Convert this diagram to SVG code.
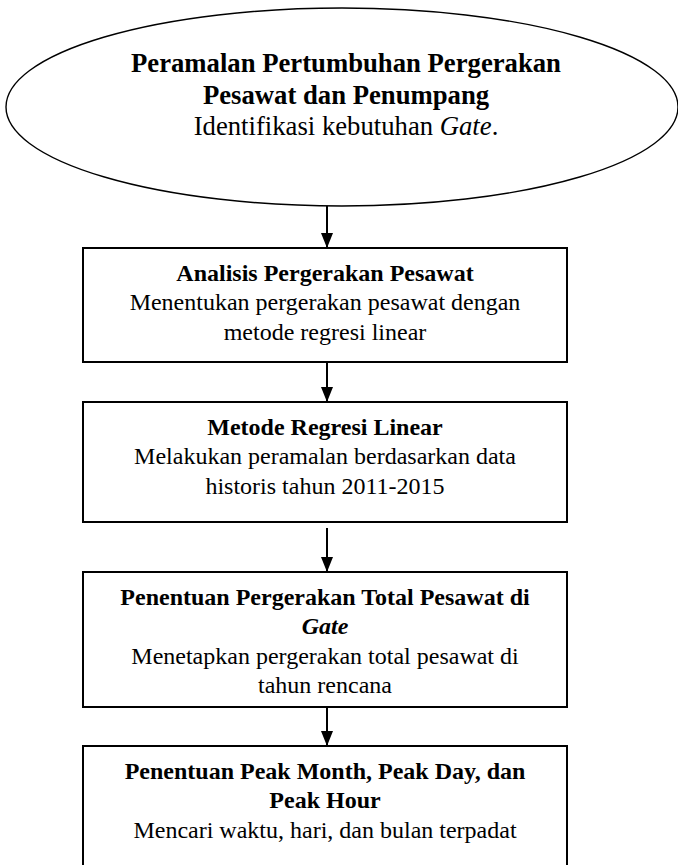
<svg xmlns="http://www.w3.org/2000/svg" width="678" height="865" viewBox="0 0 678 865">
<style>
  .shape { fill: #ffffff; stroke: #000000; }
  .box { stroke-width: 2; }
  .ell { stroke-width: 1.4; }
  .t { font-family: "Liberation Serif", "Times New Roman", serif; fill: #000000; text-anchor: middle; }
  .bt { font-size: 24px; }
  .et { font-size: 26.7px; }
  .b { font-weight: bold; }
  .i { font-style: italic; }
  .conn { stroke: #000000; stroke-width: 2; fill: none; }
</style>
<defs>
  <marker id="arr" viewBox="0 0 15 12" refX="15" refY="6" markerWidth="15" markerHeight="12" markerUnits="userSpaceOnUse" orient="auto">
    <path d="M0,0 L15,6 L0,12 z" fill="#000000"/>
  </marker>
</defs>
<rect x="0" y="0" width="678" height="865" fill="#ffffff"/>

<g id="node-ellipse">
  <ellipse class="shape ell" cx="342" cy="107" rx="336" ry="99"/>
  <text class="t et b" x="346" y="72">Peramalan Pertumbuhan Pergerakan</text>
  <text class="t et b" x="346" y="103.5">Pesawat dan Penumpang</text>
  <text class="t et" x="346" y="135">Identifikasi kebutuhan <tspan class="i">Gate</tspan>.</text>
</g>

<g id="node-analisis">
  <rect class="shape box" x="83" y="248" width="484" height="114"/>
  <text class="t bt b" x="325" y="280.5">Analisis Pergerakan Pesawat</text>
  <text class="t bt" x="325" y="310">Menentukan pergerakan pesawat dengan</text>
  <text class="t bt" x="325" y="339.5">metode regresi linear</text>
</g>

<g id="node-regresi">
  <rect class="shape box" x="83" y="402" width="484" height="120"/>
  <text class="t bt b" x="325" y="434.5">Metode Regresi Linear</text>
  <text class="t bt" x="325" y="464">Melakukan peramalan berdasarkan data</text>
  <text class="t bt" x="325" y="493.5">historis tahun 2011-2015</text>
</g>

<g id="node-total">
  <rect class="shape box" x="83" y="572" width="484" height="135"/>
  <text class="t bt b" x="325" y="604.5">Penentuan Pergerakan Total Pesawat di</text>
  <text class="t bt b i" x="325" y="634">Gate</text>
  <text class="t bt" x="325" y="663.5">Menetapkan pergerakan total pesawat di</text>
  <text class="t bt" x="325" y="693">tahun rencana</text>
</g>

<g id="node-peak">
  <rect class="shape box" x="83" y="746" width="484" height="140"/>
  <text class="t bt b" x="325" y="778.5">Penentuan Peak Month, Peak Day, dan</text>
  <text class="t bt b" x="325" y="808">Peak Hour</text>
  <text class="t bt" x="325" y="837.5">Mencari waktu, hari, dan bulan terpadat</text>
</g>

<g id="connectors">
  <path class="conn" d="M327,206 L327,248" marker-end="url(#arr)"/>
  <path class="conn" d="M327,362 L327,402" marker-end="url(#arr)"/>
  <path class="conn" d="M327,528 L327,572" marker-end="url(#arr)"/>
  <path class="conn" d="M327,706 L327,746" marker-end="url(#arr)"/>
</g>
</svg>
